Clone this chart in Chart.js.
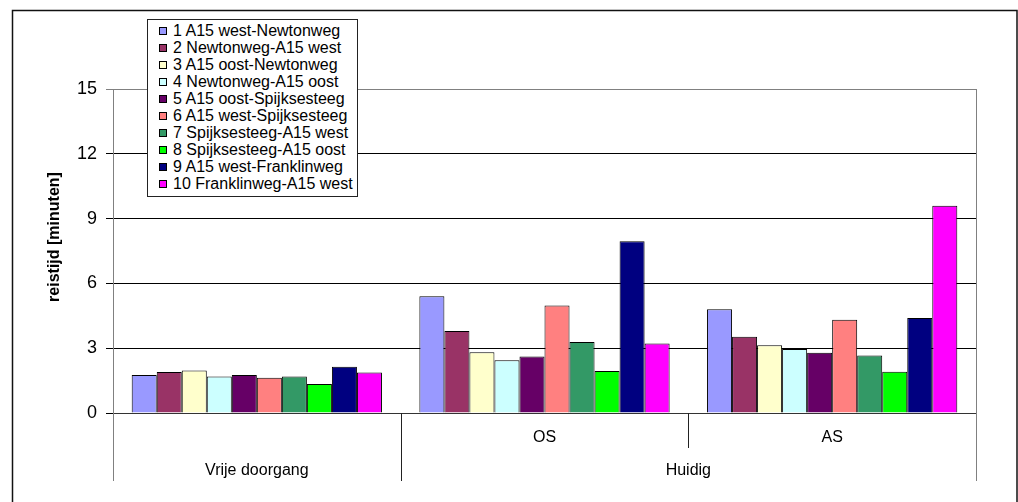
<!DOCTYPE html>
<html>
<head>
<meta charset="utf-8">
<title>reistijd</title>
<script src="https://cdn.jsdelivr.net/npm/chart.js@4.4.0/dist/chart.umd.min.js"></script>
<style>
  html, body { margin: 0; padding: 0; background: #fff; }
  #wrap { position: relative; width: 1018px; height: 502px; overflow: hidden; }
  #chart { position: absolute; left: 0; top: 0; }
  #legend {
    position: absolute; left: 147px; top: 19px; width: 209px; height: 176px;
    border: 1px solid #222; background: #fff;
    font-family: "Liberation Sans", Arial, sans-serif; font-size: 16px; color: #000;
  }
  .item { position: absolute; left: 11px; height: 17px; line-height: 17px; white-space: nowrap; }
  .sw { display: inline-block; width: 6px; height: 6px; border: 1px solid #000; margin-right: 6px; vertical-align: 1px; }
</style>
</head>
<body>
<div id="wrap">
  <canvas id="chart" width="1018" height="502"></canvas>
  <div id="legend"></div>
</div>
<script>
// Scenario columns: the sub-label row and the group row below it
const subLabels = ['', 'OS', 'AS'];
const groupLabels = ['Vrije doorgang', 'Huidig'];
const groupSpans = [[0, 0], [1, 2]];

// Route names and colours
const routeNames = [
  '1 A15 west-Newtonweg',
  '2 Newtonweg-A15 west',
  '3 A15 oost-Newtonweg',
  '4 Newtonweg-A15 oost',
  '5 A15 oost-Spijksesteeg',
  '6 A15 west-Spijksesteeg',
  '7 Spijksesteeg-A15 west',
  '8 Spijksesteeg-A15 oost',
  '9 A15 west-Franklinweg',
  '10 Franklinweg-A15 west'
];
const routeColors = ['#9999FF', '#993366', '#FFFFCC', '#CCFFFF', '#660066',
                     '#FF8080', '#339966', '#00FF00', '#000080', '#FF00FF'];

// Travel times in minutes: [Vrije doorgang, Huidig OS, Huidig AS]
const route1 = [1.76, 5.40, 4.80];
const route2 = [1.90, 3.80, 3.53];
const route3 = [1.97, 2.81, 3.14];
const route4 = [1.69, 2.44, 2.96];
const route5 = [1.76, 2.62, 2.79];
const route6 = [1.63, 4.98, 4.32];
const route7 = [1.69, 3.29, 2.66];
const route8 = [1.34, 1.95, 1.91];
const route9 = [2.14, 7.95, 4.40];
const route10 = [1.88, 3.22, 9.60];
const routeValues = [route1, route2, route3, route4, route5, route6, route7, route8, route9, route10];

// Value axis
const yTicks = [0, 3, 6, 9, 12, 15];
const yTitle = 'reistijd [minuten]';

const FONT = '"Liberation Sans", Arial, sans-serif';

// Legend box
const legendEl = document.getElementById('legend');
routeNames.forEach((name, i) => {
  const row = document.createElement('div');
  row.className = 'item';
  row.style.top = (1.5 + 17.04 * i) + 'px';
  const sw = document.createElement('span');
  sw.className = 'sw';
  sw.style.background = routeColors[i];
  row.appendChild(sw);
  row.appendChild(document.createTextNode(name));
  legendEl.appendChild(row);
});

// Outer frame, axis title, extra axis rules and the two-level category labels
const groupAxis = {
  id: 'groupAxis',
  afterDraw(chart) {
    const { ctx, chartArea: a, scales: { x } } = chart;
    const base = Math.round(a.bottom);
    const low = 481, mid = 448;
    const px = i => x.getPixelForValue(i);
    const half = (px(1) - px(0)) / 2;
    const vline = (xx, y0, y1, color) => {
      ctx.beginPath();
      ctx.strokeStyle = color;
      ctx.lineWidth = 1;
      const cx = Math.round(xx) + 0.5;
      ctx.moveTo(cx, y0);
      ctx.lineTo(cx, y1);
      ctx.stroke();
    };
    ctx.save();
    // frame around the whole chart
    ctx.strokeStyle = '#111';
    ctx.lineWidth = 1.5;
    ctx.strokeRect(12.5, 10.5, 1004.5, 520);
    // plot area right edge and left axis continuation
    vline(a.right, a.top, low, '#808080');
    vline(a.left, base, low, '#808080');
    // separators between columns
    groupSpans.forEach((span, g) => {
      if (g > 0) vline(px(span[0]) - half, base, low, '#222');
      for (let k = span[0] + 1; k <= span[1]; k++) vline(px(k) - half, base, mid, '#222');
    });
    // category labels
    ctx.fillStyle = '#000';
    ctx.font = '16px ' + FONT;
    ctx.textAlign = 'center';
    ctx.textBaseline = 'middle';
    subLabels.forEach((t, i) => { if (t) ctx.fillText(t, px(i), 438); });
    groupLabels.forEach((t, g) => {
      const c = (px(groupSpans[g][0]) + px(groupSpans[g][1])) / 2;
      ctx.fillText(t, c, 471);
    });
    // value axis title
    ctx.translate(55, 237);
    ctx.rotate(-Math.PI / 2);
    ctx.font = 'bold 16px ' + FONT;
    ctx.fillText(yTitle, 0, 0);
    ctx.restore();
  }
};

new Chart(document.getElementById('chart'), {
  type: 'bar',
  data: {
    labels: subLabels.map((s, i) => s || groupLabels[0]),
    datasets: routeNames.map((name, i) => ({
      label: name,
      data: routeValues[i],
      backgroundColor: routeColors[i],
      borderColor: '#000',
      borderWidth: 1,
      borderSkipped: 'bottom',
      categoryPercentage: 0.87,
      barPercentage: 1.0
    }))
  },
  options: {
    responsive: false,
    animation: false,
    devicePixelRatio: 1,
    layout: { padding: { top: 89, right: 42, left: 0, bottom: 0 } },
    plugins: { legend: { display: false }, tooltip: { enabled: false } },
    scales: {
      x: {
        offset: true,
        grid: { display: false },
        border: { color: '#333', width: 1 },
        ticks: { display: false },
        afterFit(s) { s.height = 89; }
      },
      y: {
        min: 0,
        max: 15,
        afterBuildTicks(s) { s.ticks = yTicks.map(v => ({ value: v })); },
        ticks: { padding: 9, color: '#000', font: { family: FONT, size: 18 } },
        grid: {
          color: c => (c.tick && c.tick.value === 15 ? '#808080' : '#000'),
          tickLength: 7,
          lineWidth: 1
        },
        border: { color: '#808080', width: 1 },
        afterFit(s) { s.width = 113; }
      }
    }
  },
  plugins: [groupAxis]
});
</script>
</body>
</html>
